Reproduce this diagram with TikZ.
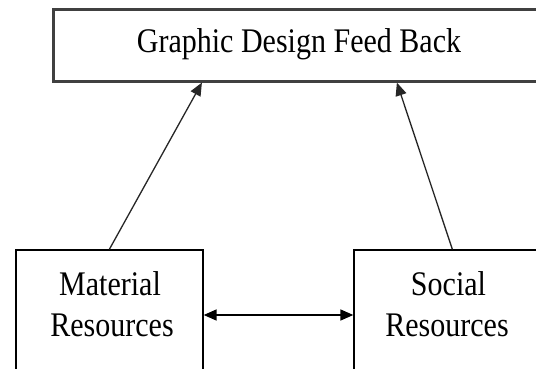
\documentclass[tikz,border=0pt]{standalone}
\usepackage{fontspec}
\setmainfont{Liberation Serif}[FakeStretch=0.87]
\usetikzlibrary{arrows.meta}
\tikzset{
  topbox/.style={draw=black!75, line width=2.2pt, rectangle, inner sep=0pt},
  sidebox/.style={draw=black, line width=1.3pt, rectangle, inner sep=0pt},
  lbl/.style={anchor=base, inner sep=0pt, font=\fontsize{34.5}{41}\selectfont, text=black},
  tip/.tip={Triangle[length=13pt,width=11pt]},
  conn/.style={draw=black!85, line width=1.3pt, -tip},
  dconn/.style={draw=black, line width=1.5pt, tip-tip}
}
\begin{document}
\begin{tikzpicture}[x=1pt,y=-1pt]
\clip (0,0) rectangle (536,369);
\fill[white] (0,0) rectangle (536,369);
% boxes
\node[topbox, minimum width=491.5pt, minimum height=72pt] (fb) at (299.25,45.5) {};
\node[sidebox, minimum width=187pt, minimum height=130pt] (mr) at (109.5,315) {};
\node[sidebox, minimum width=186pt, minimum height=130pt] (sr) at (447,315) {};
% texts
\node[lbl] (fbt) at (299,52.7) {Graphic Design Feed Back};
\node[lbl] (mrt1) at (110,295) {Material};
\node[lbl] (mrt2) at (112,336) {Resources};
\node[lbl] (srt1) at (448.5,295) {Social};
\node[lbl] (srt2) at (447,336) {Resources};
% connectors
\draw[conn] ([xshift=94pt]mr.north west) -- ([xshift=149.5pt]fb.south west);
\draw[conn] ([xshift=99pt]sr.north west) -- ([xshift=344.5pt]fb.south west);
\draw[dconn] (mr.east) -- (sr.west);
\end{tikzpicture}
\end{document}
